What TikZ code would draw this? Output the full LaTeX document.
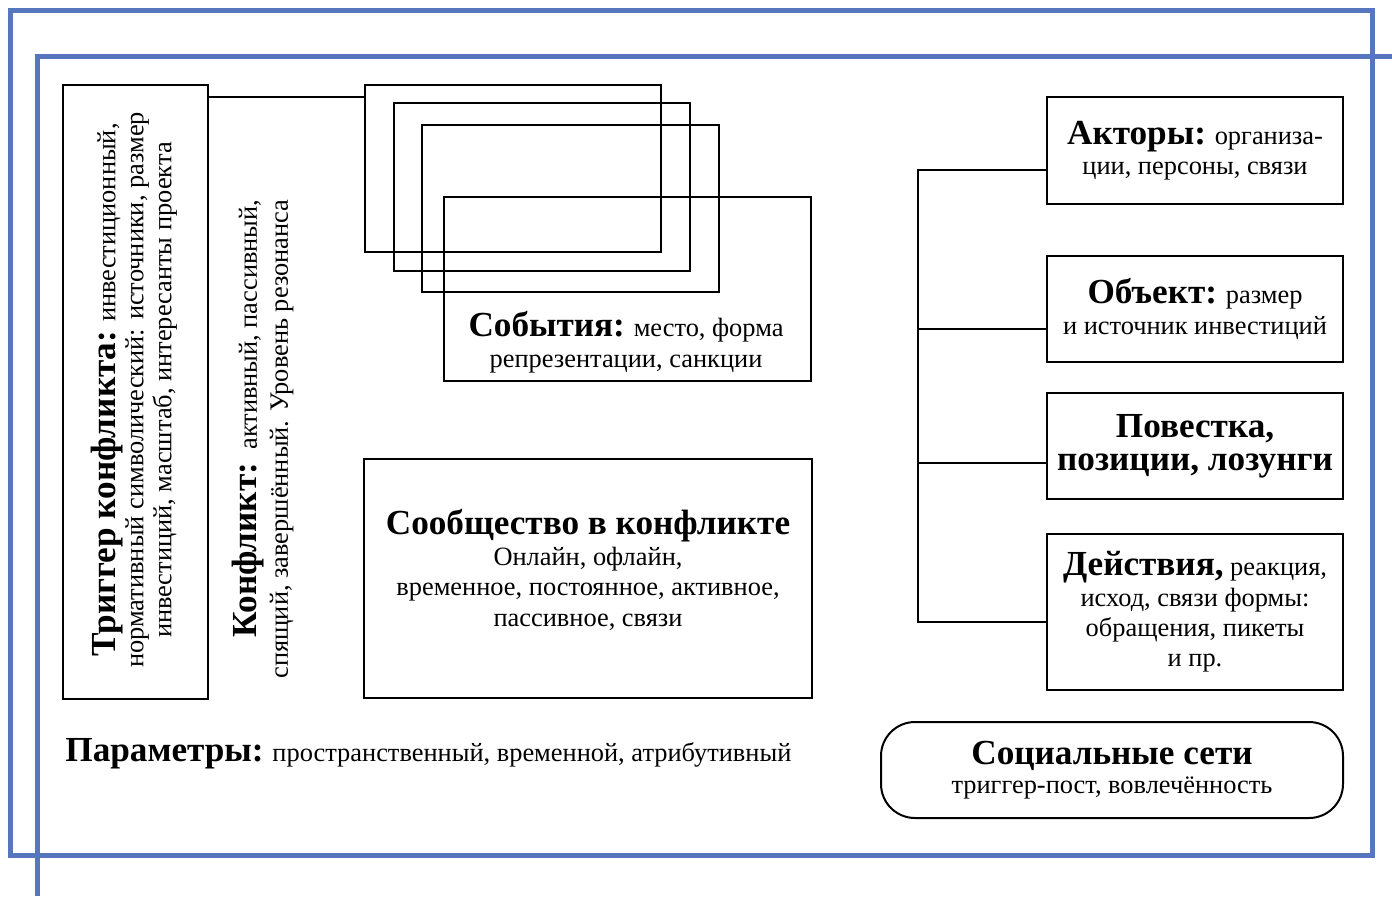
\documentclass[tikz,border=0pt]{standalone}
\usepackage{fontspec}
\setmainfont{Liberation Serif}
\definecolor{frameblue}{RGB}{86,119,190}
\newcommand{\hd}[1]{{\fontsize{17.6}{17.6}\selectfont\bfseries #1}}
\begin{document}
\begin{tikzpicture}[x=0.5pt,y=-0.5pt,
    box/.style={draw,line width=1pt,inner sep=0pt,align=center,
      font=\fontsize{13.2}{15.2}\selectfont},
    conn/.style={line width=1pt},
    blueframe/.style={draw=frameblue,line width=2.5pt}]
  \useasboundingbox (0,0) rectangle (1392,896);
  % frames
  \draw[blueframe] (10,10) rectangle (1372,855);
  \draw[blueframe] (37,896) -- (37,56) -- (1392,56);
  % left column
  \node[box,minimum width=72.5pt,minimum height=307pt] (trig) at (135.5,392) {};
  \node[rotate=90,align=center,inner sep=0pt,
    font=\fontsize{13.2}{14}\selectfont] (trigtxt) at (134,390)
    {\hd{Триггер конфликта:} инвестиционный,\\
     нормативный символический: источники, размер\\
     инвестиций, масштаб, интересанты проекта};
  \node[rotate=90,align=right,inner sep=0pt,
    font=\fontsize{13.2}{15.5}\selectfont] (konf) at (263,439)
    {\hd{Конфликт:}\ \ активный, пассивный,\\
     спящий, завершённый. Уровень резонанса};
  % events
  \node[box,minimum width=148pt,minimum height=83.5pt] (ev1) at (513,168.5) {};
  \node[box,minimum width=148pt,minimum height=84pt] (ev2) at (542,187) {};
  \node[box,minimum width=148.5pt,minimum height=83.5pt] (ev3) at (570.5,208.5) {};
  \node[box,minimum width=183.5pt,minimum height=92pt] (ev4) at (627.5,289) {};
  \node[align=center,inner sep=0pt,font=\fontsize{13.2}{15.2}\selectfont] (evtxt) at (626,342)
    {\hd{События:} место, форма\\ репрезентации, санкции};
  \coordinate (tj) at (trig.east |- 0,97);
  \draw[conn] (tj) -- (tj -| ev1.west);
  % community
  \node[box,minimum width=224pt,minimum height=119.5pt] (comm) at (588,578.5) {};
  \node[align=center,inner sep=0pt,font=\fontsize{13.2}{15.2}\selectfont] (commtxt) at (588,570)
    {\hd{Сообщество в конфликте}\\ Онлайн, офлайн,\\
     временное, постоянное, активное,\\ пассивное, связи};
  \node[anchor=west,inner sep=0pt,font=\fontsize{13.2}{15.2}\selectfont] (params) at (65,754)
    {\hd{Параметры:} пространственный, временной, атрибутивный};
  % right column
  \node[box,minimum width=148pt,minimum height=53.5pt] (act) at (1195,150.5)
    {\hd{Акторы:} организа-\\ ции, персоны, связи};
  \node[box,minimum width=148pt,minimum height=53pt] (obj) at (1195,309)
    {\hd{Объект:} размер\\ и источник инвестиций};
  \node[box,minimum width=148pt,minimum height=53pt,
    font=\fontsize{17.6}{16.5}\selectfont\bfseries] (pov) at (1195,446)
    {Повестка,\\ позиции, лозунги};
  \node[box,minimum width=148pt,minimum height=78pt] (dej) at (1195,612)
    {\hd{Действия,} реакция,\\ исход, связи формы:\\ обращения, пикеты\\ и пр.};
  \node[box,rounded corners=17pt,minimum width=231pt,minimum height=48pt,
    font=\fontsize{13.2}{14.5}\selectfont] (soc) at (1112,770)
    {\hd{Социальные сети}\\ триггер-пост, вовлечённость};
  \coordinate (b1) at (918,170);
  \coordinate (b2) at (918,329);
  \coordinate (b3) at (918,463);
  \coordinate (b4) at (918,622);
  \draw[conn] (b1 -| act.west) -- (b1) -- (b4) -- (b4 -| dej.west);
  \draw[conn] (b2) -- (b2 -| obj.west);
  \draw[conn] (b3) -- (b3 -| pov.west);
\end{tikzpicture}
\end{document}
